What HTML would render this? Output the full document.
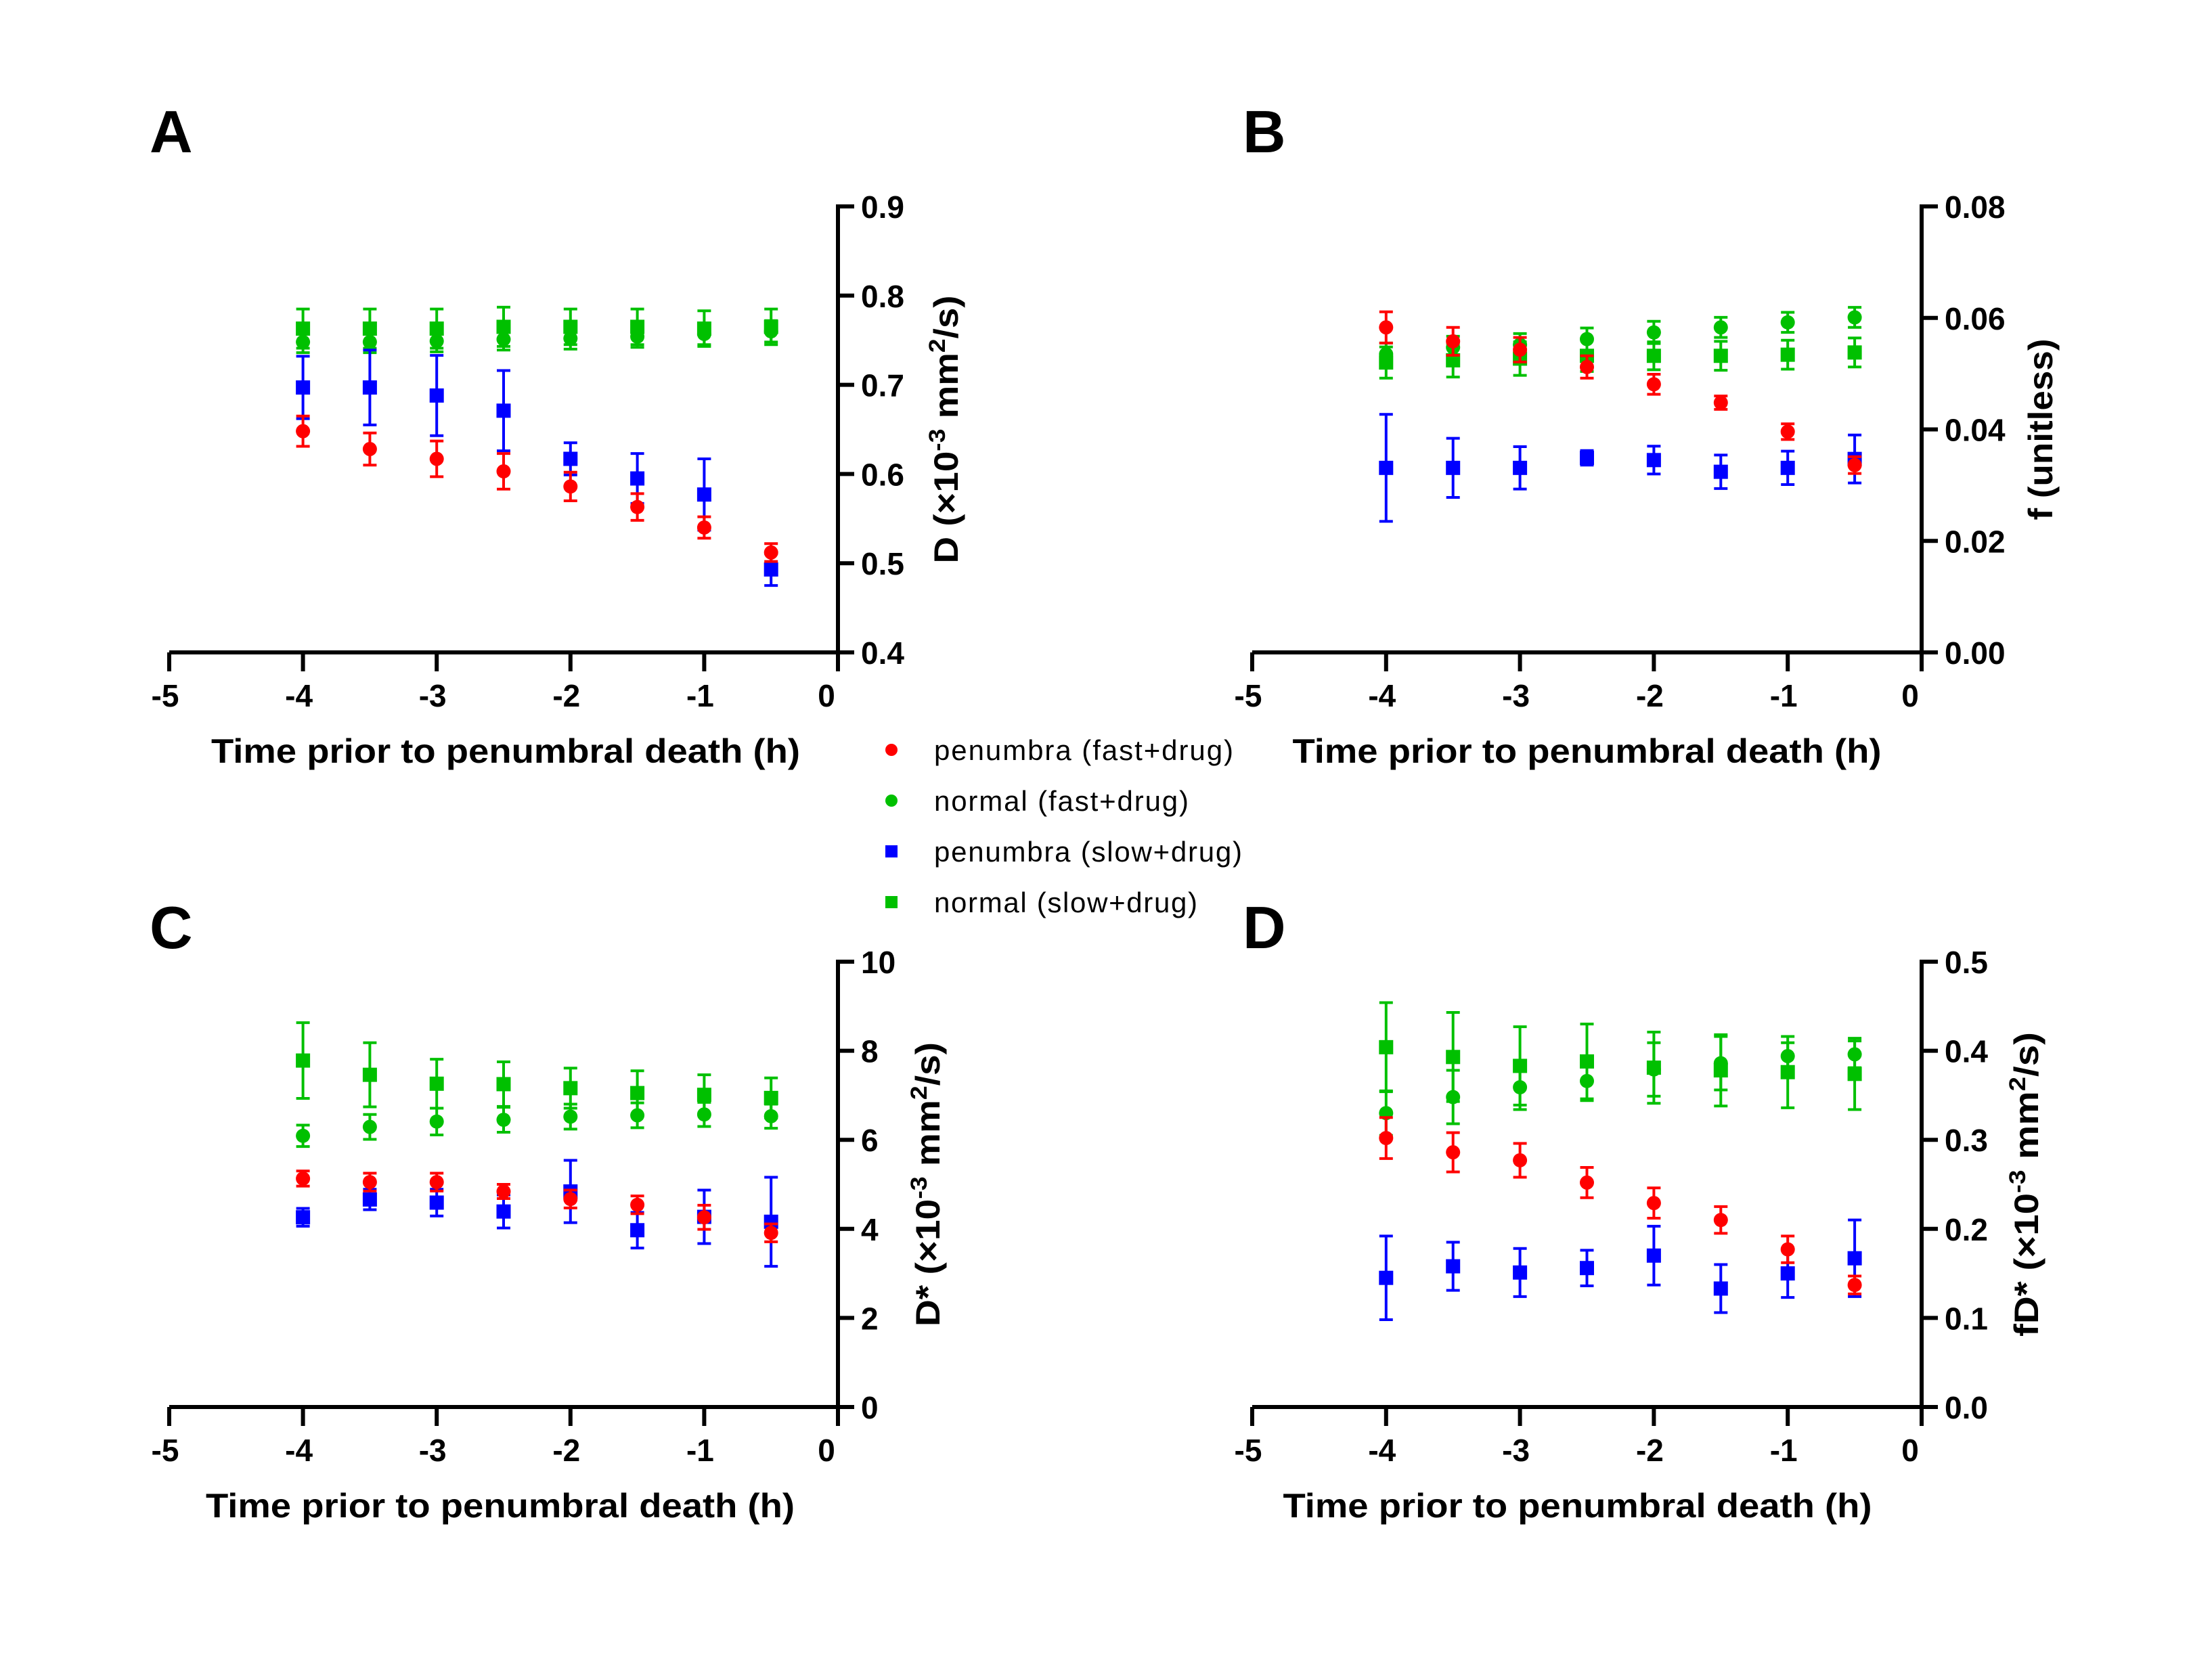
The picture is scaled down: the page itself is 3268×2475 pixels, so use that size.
<!DOCTYPE html>
<html><head><meta charset="utf-8"><style>
html,body{margin:0;padding:0;background:#fff}
svg{display:block}
text{font-family:"Liberation Sans",sans-serif}
</style></head><body>
<svg id="fig" width="3268" height="2475" viewBox="0 0 3268 2475" xmlns="http://www.w3.org/2000/svg">
<rect width="3268" height="2475" fill="#fff"/>
<g id="legend">
 <g><circle cx="1317" cy="1108" r="9" fill="#ff0000"/><text x="1380" y="1123" font-size="42" textLength="442">penumbra (fast+drug)</text></g>
 <g><circle cx="1317" cy="1183" r="9" fill="#00c000"/><text x="1380" y="1198" font-size="42" textLength="376">normal (fast+drug)</text></g>
 <g><rect x="1308" y="1249" width="18" height="18" fill="#0000ff"/><text x="1380" y="1273" font-size="42" textLength="455">penumbra (slow+drug)</text></g>
 <g><rect x="1308" y="1324" width="18" height="18" fill="#00c000"/><text x="1380" y="1348" font-size="42" textLength="389">normal (slow+drug)</text></g>
</g>
</svg>
<script>
const times = [-4,-3.5,-3,-2.5,-2,-1.5,-1,-0.5];
const xTicks = [-5,-4,-3,-2,-1,0];

// Panel A: D
const aPenFast = [0.648,0.628,0.617,0.603,0.586,0.563,0.540,0.512];
const aPenFastErr = [0.017,0.018,0.02,0.02,0.016,0.015,0.012,0.01];
const aNorFast = [0.748,0.748,0.749,0.751,0.752,0.754,0.757,0.760];
const aNorFastErr = [0.012,0.012,0.012,0.012,0.012,0.012,0.012,0.012];
const aPenSlow = [0.697,0.697,0.688,0.671,0.617,0.595,0.577,0.493];
const aPenSlowErr = [0.035,0.042,0.045,0.045,0.018,0.028,0.04,0.018];
const aNorSlow = [0.763,0.763,0.763,0.765,0.765,0.765,0.763,0.765];
const aNorSlowErr = [0.022,0.022,0.022,0.022,0.02,0.02,0.02,0.02];
const aTicks = ["0.4","0.5","0.6","0.7","0.8","0.9"];

// Panel B: f
const bPenFast = [0.0583,0.0558,0.0543,0.0512,0.0481,0.0448,0.0396,0.0336];
const bPenFastErr = [0.0028,0.0025,0.0022,0.002,0.0018,0.0012,0.0014,0.0015];
const bNorFast = [0.0535,0.0547,0.0552,0.0562,0.0574,0.0583,0.0592,0.0601];
const bNorFastErr = [0.002,0.002,0.002,0.002,0.002,0.0018,0.0018,0.0018];
const bPenSlow = [0.0331,0.0331,0.0331,0.0349,0.0345,0.0324,0.0331,0.0347];
const bPenSlowErr = [0.0096,0.0053,0.0038,0.0013,0.0025,0.003,0.003,0.0043];
const bNorSlow = [0.052,0.0524,0.0527,0.0532,0.0532,0.0532,0.0534,0.0538];
const bNorSlowErr = [0.0028,0.003,0.003,0.0028,0.0025,0.0026,0.0026,0.0026];
const bTicks = ["0.00","0.02","0.04","0.06","0.08"];

// Panel C: D*
const cPenFast = [5.13,5.05,5.05,4.84,4.67,4.54,4.26,3.91];
const cPenFastErr = [0.17,0.2,0.2,0.16,0.2,0.2,0.27,0.2];
const cNorFast = [6.09,6.29,6.41,6.45,6.52,6.55,6.57,6.53];
const cNorFastErr = [0.24,0.28,0.3,0.28,0.28,0.28,0.27,0.27];
const cPenSlow = [4.26,4.66,4.59,4.39,4.84,3.97,4.27,4.16];
const cPenSlowErr = [0.2,0.23,0.3,0.37,0.7,0.4,0.6,1.0];
const cNorSlow = [7.78,7.46,7.26,7.25,7.16,7.05,7.01,6.94];
const cNorSlowErr = [0.85,0.72,0.55,0.5,0.45,0.5,0.45,0.45];
const cTicks = ["0","2","4","6","8","10"];

// Panel D: fD*
const dPenFast = [0.302,0.286,0.277,0.252,0.229,0.210,0.177,0.137];
const dPenFastErr = [0.023,0.022,0.019,0.017,0.017,0.015,0.015,0.01];
const dNorFast = [0.330,0.348,0.359,0.366,0.379,0.386,0.394,0.396];
const dNorFastErr = [0.025,0.03,0.025,0.022,0.03,0.03,0.015,0.015];
const dPenSlow = [0.145,0.158,0.151,0.156,0.170,0.133,0.150,0.167];
const dPenSlowErr = [0.047,0.027,0.027,0.02,0.033,0.027,0.027,0.043];
const dNorSlow = [0.404,0.393,0.383,0.388,0.381,0.378,0.376,0.374];
const dNorSlowErr = [0.05,0.05,0.044,0.042,0.04,0.04,0.04,0.04];
const dTicks = ["0.0","0.1","0.2","0.3","0.4","0.5"];

const NS = "http://www.w3.org/2000/svg";
const svg = document.getElementById('fig');
const RED="#ff0000", GREEN="#00c000", BLUE="#0000ff";

function mk(tag, parent){ const e=document.createElementNS(NS,tag); parent.appendChild(e); return e; }

function panel(p){
  const g = mk('g', svg);
  
  
  const xs = v => p.x0 + (v - (-5)) / 5 * (p.x1 - p.x0);
  const ys = v => p.yb - (v - p.ymin) / (p.ymax - p.ymin) * (p.yb - p.yt);

  const L = mk('text', g);
  
  
  L.setAttribute('x', p.lx); L.setAttribute('y', p.ly);
  L.setAttribute('font-size', 88); L.setAttribute('font-weight', 'bold');
  L.textContent = p.id;

  const ax = mk('path', g);
  
  
  let d = `M${p.x0},${p.yb}H${p.x1}M${p.x1},${p.yt-3}V${p.yb+3}`;
  xTicks.forEach(t => { d += `M${xs(t)},${p.yb}v28`; });
  p.ticks.forEach(t => { d += `M${p.x1},${ys(parseFloat(t))}h24`; });
  ax.setAttribute('d', d); ax.setAttribute('stroke', '#000'); ax.setAttribute('stroke-width', 6); ax.setAttribute('fill', 'none');

  xTicks.forEach(t => {
    const tx = mk('text', g);
    
    
    tx.setAttribute('x', xs(t) - (t===0?17:6)); tx.setAttribute('y', p.yb + 80);
    tx.setAttribute('font-size', 46); tx.setAttribute('font-weight', 'bold'); tx.setAttribute('text-anchor', 'middle');
    tx.textContent = String(t);
  });
  p.ticks.forEach(t => {
    const tx = mk('text', g);
    
    
    tx.setAttribute('x', p.x1 + 34); tx.setAttribute('y', ys(parseFloat(t)) + 17);
    tx.setAttribute('font-size', 46); tx.setAttribute('font-weight', 'bold');
    tx.textContent = t;
  });
  const xt = mk('text', g);
  
  
  xt.setAttribute('x', (p.x0+p.x1)/2 + p.xtOff); xt.setAttribute('y', p.yb + 163);
  xt.setAttribute('font-size', 50); xt.setAttribute('font-weight', 'bold'); xt.setAttribute('text-anchor', 'middle');
  xt.setAttribute('textLength', 870); xt.setAttribute('lengthAdjust', 'spacingAndGlyphs');
  xt.textContent = 'Time prior to penumbral death (h)';

  const yt = mk('text', g);
  
  
  const cy = (p.yt + p.yb)/2;
  yt.setAttribute('transform', `translate(${p.ytx + 17},${cy}) rotate(-90)`);
  yt.setAttribute('font-size', 50); yt.setAttribute('font-weight', 'bold'); yt.setAttribute('text-anchor', 'middle');
  yt.setAttribute('textLength', p.ytLen); yt.setAttribute('lengthAdjust', 'spacingAndGlyphs');
  yt.innerHTML = p.ytitle;

  p.series.forEach(s => {
    const sg = mk('g', g);
    
    
    times.forEach((t, i) => {
      const cx = xs(t), cyv = ys(s.v[i]), top = ys(s.v[i] + s.e[i]), bot = ys(s.v[i] - s.e[i]);
      const eb = mk('path', sg);
      
      
      eb.setAttribute('d', `M${cx},${top}V${bot}M${cx-10},${top}h20M${cx-10},${bot}h20`);
      eb.setAttribute('stroke', s.c); eb.setAttribute('stroke-width', 4); eb.setAttribute('fill', 'none');
      let m;
      if (s.shape === 'c') {
        m = mk('circle', sg);
        m.setAttribute('cx', cx); m.setAttribute('cy', cyv); m.setAttribute('r', 10.5);
      } else {
        m = mk('rect', sg);
        m.setAttribute('x', cx-10.5); m.setAttribute('y', cyv-10.5); m.setAttribute('width', 21); m.setAttribute('height', 21);
      }
      
      
      m.setAttribute('fill', s.c);
    });
  });
}

function ser(nsv, nse, nfv, nfe, psv, pse, pfv, pfe){
  return [
    {name:'normal-slow', v:nsv, e:nse, c:GREEN, shape:'s'},
    {name:'normal-fast', v:nfv, e:nfe, c:GREEN, shape:'c'},
    {name:'penumbra-slow', v:psv, e:pse, c:BLUE, shape:'s'},
    {name:'penumbra-fast', v:pfv, e:pfe, c:RED, shape:'c'}
  ];
}

const sup = (a)=>`<tspan baseline-shift="super" font-size="34">${a}</tspan>`;
panel({id:'A', x0:250, x1:1238, yt:305, yb:964, ymin:0.4, ymax:0.9, ticks:aTicks, lx:221, ly:225, xtOff:3,
  ytx:1398, ytLen:396, ytitle:`D (×10${sup('-3')} mm${sup('2')}/s)`,
  series:ser(aNorSlow,aNorSlowErr,aNorFast,aNorFastErr,aPenSlow,aPenSlowErr,aPenFast,aPenFastErr)});
panel({id:'B', x0:1850, x1:2839, yt:305, yb:964, ymin:0, ymax:0.08, ticks:bTicks, lx:1836, ly:225, xtOff:0,
  ytx:3015, ytLen:268, ytitle:'f (unitless)',
  series:ser(bNorSlow,bNorSlowErr,bNorFast,bNorFastErr,bPenSlow,bPenSlowErr,bPenFast,bPenFastErr)});
panel({id:'C', x0:250, x1:1238, yt:1421, yb:2079, ymin:0, ymax:10, ticks:cTicks, lx:221, ly:1401, xtOff:-5,
  ytx:1371, ytLen:420, ytitle:`D* (×10${sup('-3')} mm${sup('2')}/s)`,
  series:ser(cNorSlow,cNorSlowErr,cNorFast,cNorFastErr,cPenSlow,cPenSlowErr,cPenFast,cPenFastErr)});
panel({id:'D', x0:1850, x1:2839, yt:1421, yb:2079, ymin:0, ymax:0.5, ticks:dTicks, lx:1836, ly:1401, xtOff:-14,
  ytx:2994, ytLen:450, ytitle:`fD* (×10${sup('-3')} mm${sup('2')}/s)`,
  series:ser(dNorSlow,dNorSlowErr,dNorFast,dNorFastErr,dPenSlow,dPenSlowErr,dPenFast,dPenFastErr)});
</script>
</body></html>
